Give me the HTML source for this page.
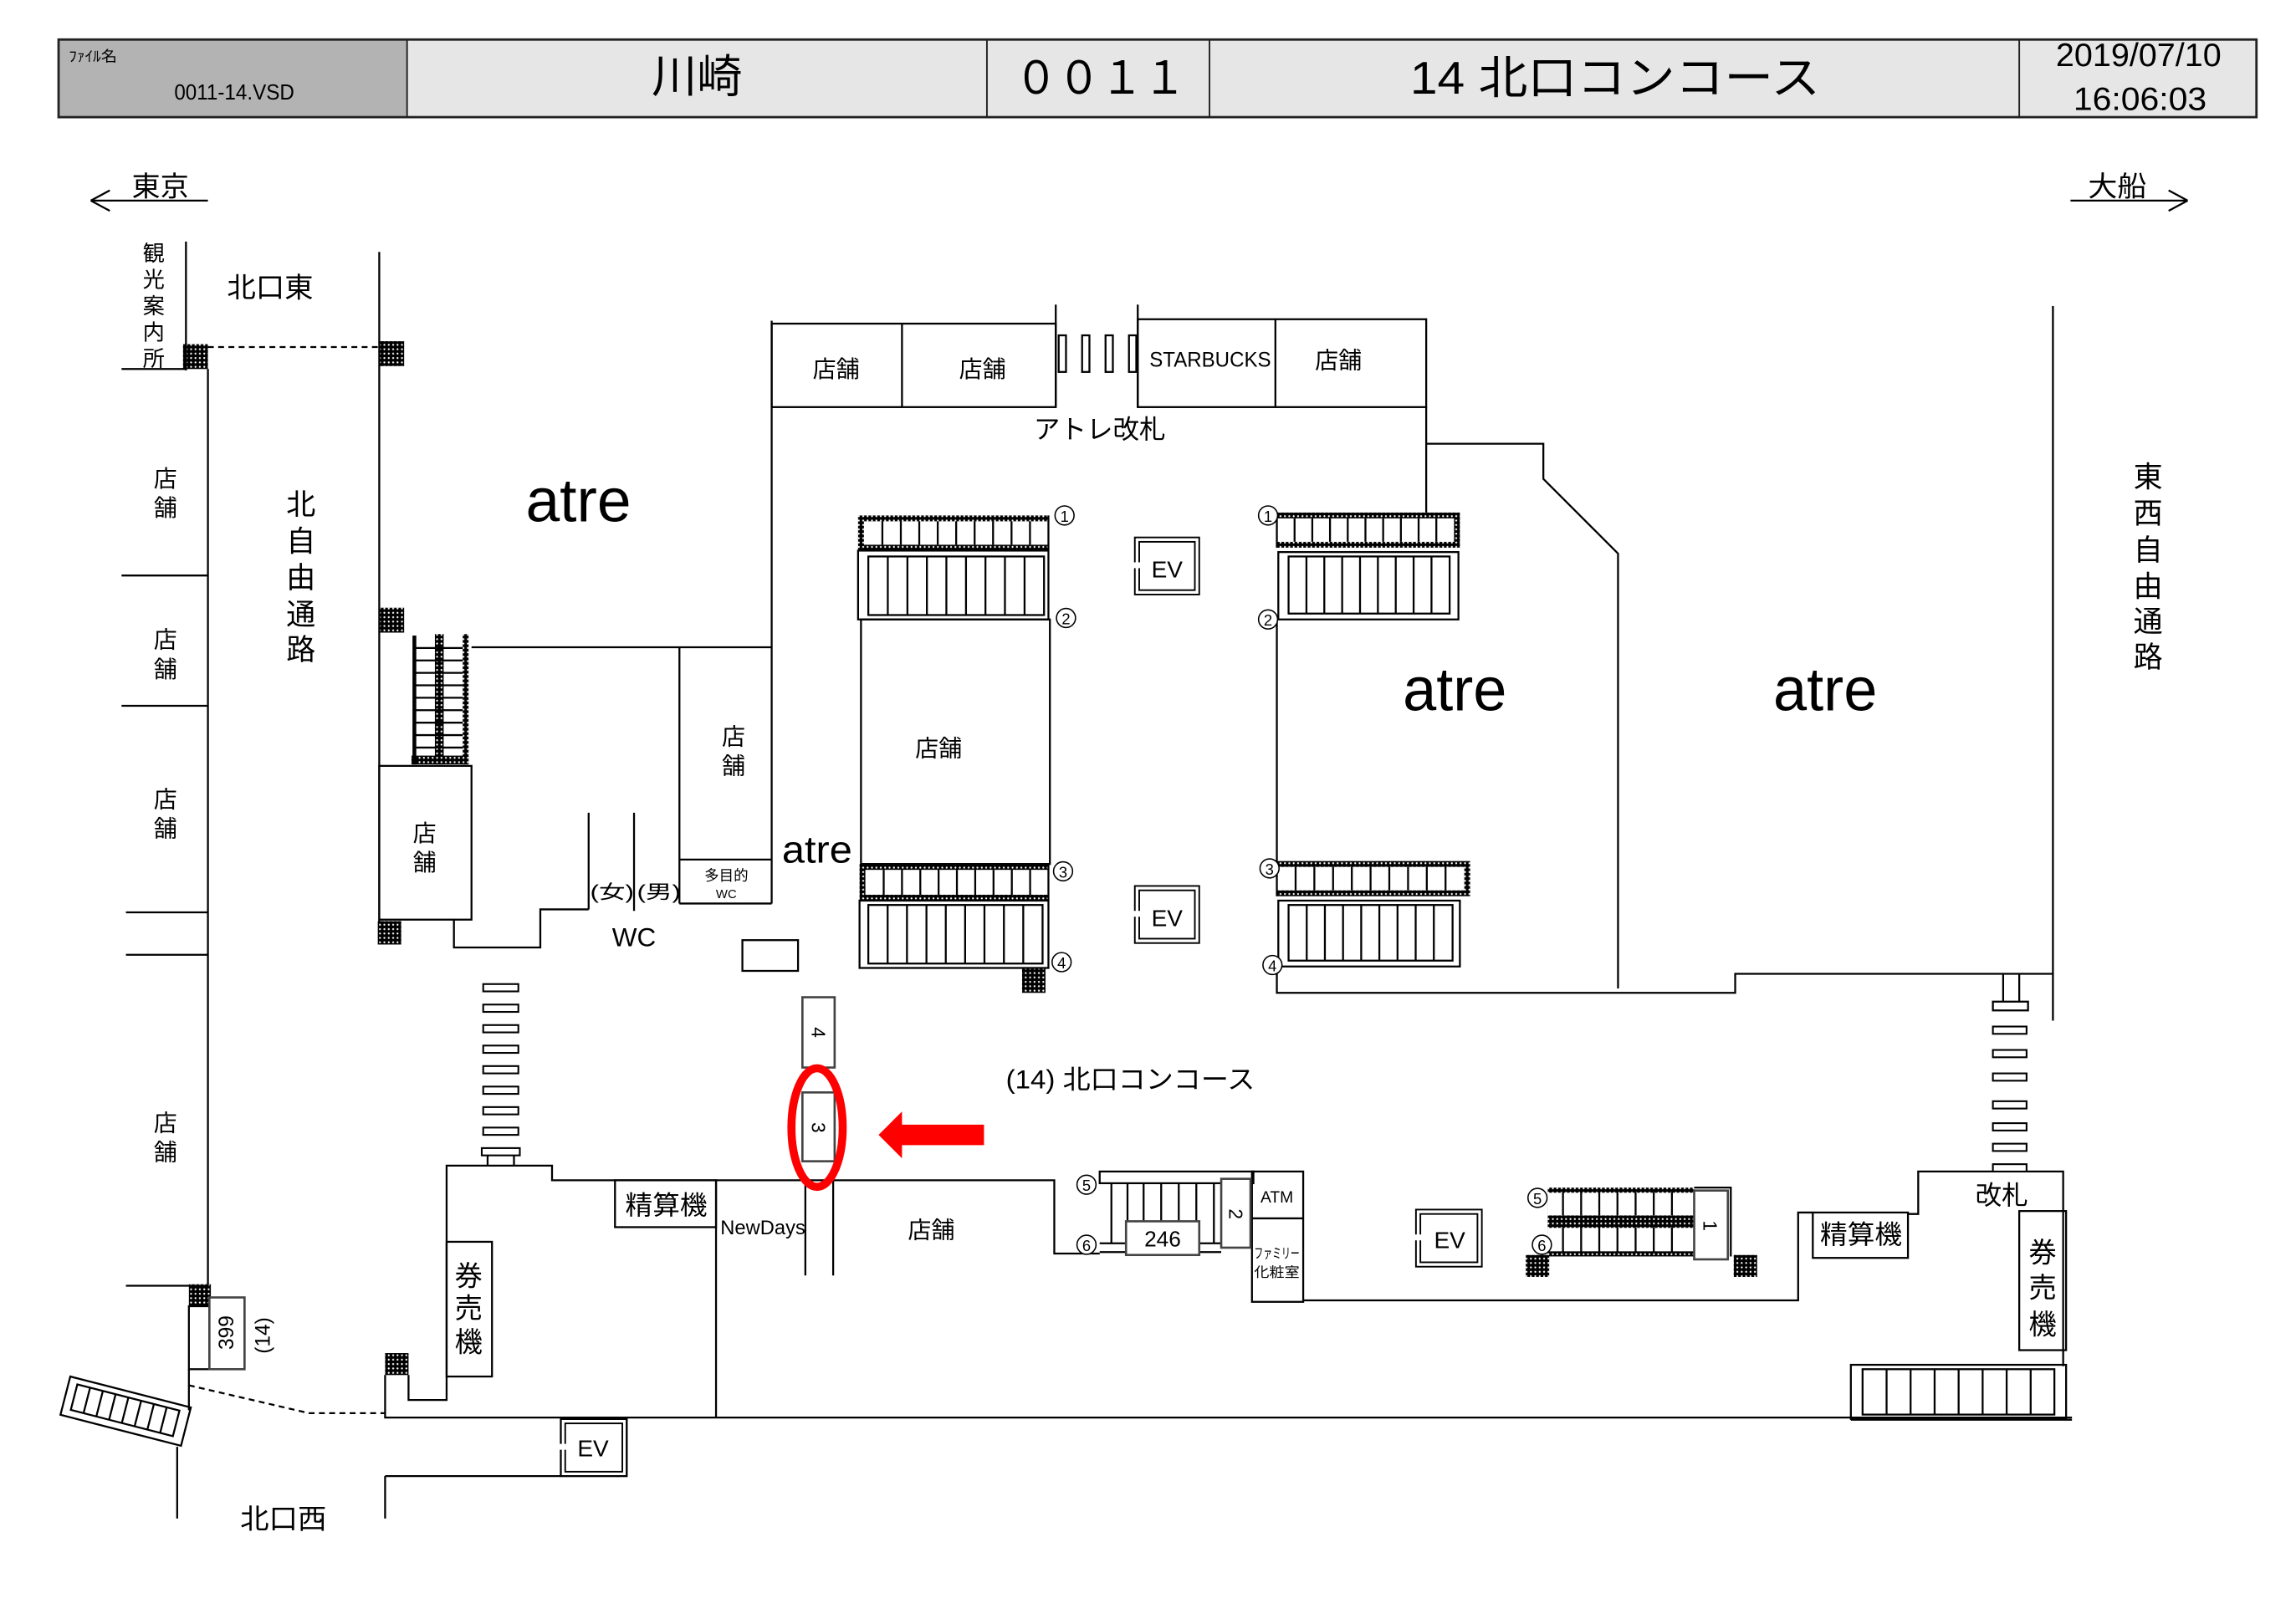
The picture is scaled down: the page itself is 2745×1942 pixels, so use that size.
<!DOCTYPE html>
<html><head><meta charset="utf-8"><style>
html,body{margin:0;padding:0;background:#fff;}
svg{display:block;}
text{font-family:"Liberation Sans","Noto Sans CJK JP",sans-serif;fill:#000;}
</style></head><body>
<svg xmlns="http://www.w3.org/2000/svg" width="2745" height="1942" viewBox="0 0 1568 1109" preserveAspectRatio="none">
<defs>
<pattern id="d" width="3" height="3" patternUnits="userSpaceOnUse"><rect width="3" height="3" fill="#000"/><circle cx="1.5" cy="1.5" r="0.65" fill="#fff"/></pattern>
</defs>
<rect width="1568" height="1109" fill="#fff"/>

<!-- HEADER -->
<rect x="40" y="27" width="238" height="53" fill="#b3b3b3"/>
<rect x="278" y="27" width="1263" height="53" fill="#e6e6e6"/>
<g stroke="#222" fill="none">
<rect x="40" y="27" width="1501" height="53" stroke-width="1.6"/>
<path d="M278 27V80M674 27V80M826 27V80M1379 27V80" stroke-width="1.1"/>
</g>
<text x="47" y="42" font-size="10" textLength="33" lengthAdjust="spacingAndGlyphs">ﾌｧｲﾙ名</text>
<text x="119" y="68" font-size="15" textLength="82" lengthAdjust="spacingAndGlyphs">0011-14.VSD</text>
<text x="445" y="63" font-size="31" textLength="62" lengthAdjust="spacingAndGlyphs">川崎</text>
<text x="693" y="64" font-size="31" textLength="117" lengthAdjust="spacingAndGlyphs">００１１</text>
<text x="963" y="64" font-size="31" textLength="280" lengthAdjust="spacingAndGlyphs">14 北口コンコース</text>
<text x="1404" y="45" font-size="22" textLength="113" lengthAdjust="spacingAndGlyphs">2019/07/10</text>
<text x="1416" y="75" font-size="22" textLength="91" lengthAdjust="spacingAndGlyphs">16:06:03</text>

<!-- direction arrows -->
<g stroke="#000" stroke-width="1.3" fill="none">
<path d="M62 137H142M62 137L75 130M62 137L75 144"/>
<path d="M1414 137H1494M1494 137L1481 130M1494 137L1481 144"/>
</g>
<text x="90" y="134" font-size="19" textLength="39" lengthAdjust="spacingAndGlyphs">東京</text>
<text x="1426" y="134" font-size="19" textLength="40" lengthAdjust="spacingAndGlyphs">大船</text>

<!-- TACTILE / DOTTED -->
<g fill="url(#d)">
<rect x="125" y="235" width="17" height="17"/>
<rect x="259" y="233" width="17" height="17"/>
<rect x="259" y="415" width="17" height="17"/>
<rect x="258" y="629" width="16" height="16"/>
<rect x="698" y="661" width="16" height="17"/>
<rect x="129" y="877" width="15" height="15"/>
<rect x="263" y="924" width="16" height="15"/>
<rect x="1042" y="857" width="16" height="15"/>
<rect x="1184" y="857" width="16" height="15"/>
<rect x="297" y="433" width="6" height="89"/>
<rect x="316" y="433" width="4" height="89"/>
<rect x="281" y="516" width="39" height="6"/>
<rect x="586" y="352" width="130" height="24"/>
<rect x="587" y="590" width="129" height="25"/>
<rect x="872" y="350" width="125" height="24"/>
<rect x="872" y="588" width="132" height="24"/>
<rect x="1057" y="811" width="100" height="47"/>
</g>
<g fill="#fff">
<rect x="590" y="356" width="126" height="16"/>
<rect x="591" y="594" width="125" height="17"/>
<rect x="872" y="354" width="121" height="16"/>
<rect x="872" y="592" width="128" height="16"/>
<rect x="1057" y="814.5" width="100" height="15.5"/>
<rect x="1057" y="838.5" width="100" height="16"/>
</g>

<!-- MAIN LINES -->
<g stroke="#000" stroke-width="1.3" fill="none">
<path d="M127 165V253M83 252H127"/>
<path d="M142 237H259" stroke-dasharray="4 3"/>
<path d="M142 252V878M259 172V630"/>
<path d="M83 393H142M83 482H142M86 623H142M86 652H142M86 878H142"/>
<path d="M283 434V522" stroke-width="2.6"/>
<path d="M283 442.5H316M283 451H316M283 459.5H316M283 468H316M283 476.5H316M283 485H316M283 493.5H316M283 502H316M283 510.5H316"/>
<rect x="259" y="523" width="63" height="105"/>
<path d="M322 442H527M527 219V617M464 442V617M464 587H527M464 617H527"/>
<path d="M402 555V621M433 555V622M310 628V647H369V621H402"/>
<rect x="507" y="642" width="38" height="21"/>
<!-- top shops -->
<rect x="527" y="221" width="194" height="57"/>
<path d="M616 221V278M721 208V278M777 208V278M871 218V278"/>
<rect x="723" y="229" width="5" height="25"/>
<rect x="739" y="229" width="5" height="25"/>
<rect x="755" y="229" width="5" height="25"/>
<rect x="771" y="229" width="5" height="25"/>
<rect x="777" y="218" width="197" height="60"/>
<path d="M974 278V350M974 303H1054V327L1105 378V675M1402 209V697"/>
<path d="M872 423V588M872 659V678H1185V665H1402"/>

<!-- left group -->
<path d="M602.6 356V372M615.2 356V372M627.8 356V372M640.4 356V372M653 356V372M665.6 356V372M678.2 356V372M690.8 356V372M703.4 356V372M716 352V376"/>
<rect x="586" y="376" width="130" height="47"/>
<rect x="593" y="380" width="120" height="40"/>
<path d="M606.3 380V420M619.7 380V420M633 380V420M646.3 380V420M659.7 380V420M673 380V420M686.3 380V420M699.7 380V420"/>
<rect x="588" y="423" width="129" height="167"/>
<path d="M603.5 594V611M616 594V611M628.5 594V611M641 594V611M653.5 594V611M666 594V611M678.5 594V611M691 594V611M703.5 594V611M716 590V615"/>
<rect x="587" y="615" width="129" height="46"/>
<rect x="593" y="618" width="119" height="40"/>
<path d="M606.2 618V658M619.4 618V658M632.7 618V658M645.9 618V658M659.1 618V658M672.3 618V658M685.6 618V658M698.8 618V658"/>

<!-- right group -->
<path d="M884.1 354V370M896.2 354V370M908.3 354V370M920.4 354V370M932.5 354V370M944.6 354V370M956.7 354V370M968.8 354V370M980.9 354V370M872 350V374"/>
<rect x="873" y="377" width="123" height="46"/>
<rect x="880" y="380" width="110" height="39"/>
<path d="M892.2 380V419M904.4 380V419M916.6 380V419M928.8 380V419M941 380V419M953.2 380V419M965.4 380V419M977.6 380V419"/>
<path d="M884.8 592V608M897.6 592V608M910.4 592V608M923.2 592V608M936 592V608M948.8 592V608M961.6 592V608M974.4 592V608M987.2 592V608M872 588V612"/>
<rect x="873" y="615" width="124" height="45"/>
<rect x="880" y="618" width="112" height="38"/>
<path d="M892.4 618V656M904.8 618V656M917.2 618V656M929.6 618V656M942 618V656M954.4 618V656M966.8 618V656M979.2 618V656"/>

<!-- bottom left -->
<rect x="129" y="892" width="14" height="43"/>
<path d="M129 935V963M121 988V1037"/>
<path d="M129 946L211 965H263" stroke-dasharray="4 3"/>
<path d="M263 939V968H1415"/>
<path d="M279 939V956H305V796H377V806H720V856H751"/>
<path d="M333 789V796M351 789V796"/>
<rect x="305" y="848" width="31" height="92"/>
<rect x="420" y="806" width="69" height="32"/>
<path d="M489 806V968M550 806V871M569 806V871"/>
<rect x="383" y="969" width="45" height="39"/>
<path d="M263 1008H383M263 1008V1037"/>
<g transform="translate(48,940) rotate(14.4)">
<rect x="0" y="0" width="85" height="27"/>
<rect x="6" y="4" width="72" height="18"/>
<path d="M15 4V22M24 4V22M33 4V22M42 4V22M51 4V22M60 4V22M69 4V22"/>
</g>

<!-- center bottom stairs 5/6 -->
<rect x="751" y="800" width="105" height="8"/>
<path d="M759 808V849M770 808V849M781 808V849M793 808V849M805 808V849M817 808V849M829 808V849"/>
<path d="M751 849H834M751 855H834"/>
<rect x="855" y="800" width="35" height="89"/>
<path d="M855 832H890M890 888H1228V828H1238M1303 829H1310V800H1409V933"/>
<rect x="1238" y="828" width="65" height="31"/>
<path d="M1368 665V684M1379 665V684"/>
<rect x="1361" y="684" width="24" height="6"/>
<rect x="1379" y="827" width="32" height="95"/>
<rect x="1264" y="932" width="147" height="37"/>
<rect x="1272" y="935" width="131" height="31"/>
<path d="M1288.4 935V966M1304.8 935V966M1321.2 935V966M1337.6 935V966M1354 935V966M1370.4 935V966M1386.8 935V966M1264 969.5H1415" />
<path d="M1067.4 814V830M1079.8 814V830M1092.2 814V830M1104.6 814V830M1117 814V830M1129.4 814V830M1141.8 814V830M1067.4 838V855M1079.8 838V855M1092.2 838V855M1104.6 838V855M1117 838V855M1129.4 838V855M1141.8 838V855M1157 811H1182V858"/>
</g>

<!-- gates dashes -->
<g stroke="#000" stroke-width="1.2" fill="#fff">
<rect x="330" y="672" width="24" height="5"/>
<rect x="330" y="686" width="24" height="5"/>
<rect x="330" y="700" width="24" height="5"/>
<rect x="330" y="714" width="24" height="5"/>
<rect x="330" y="728" width="24" height="5"/>
<rect x="330" y="742" width="24" height="5"/>
<rect x="330" y="756" width="24" height="5"/>
<rect x="330" y="770" width="24" height="5"/>
<rect x="329" y="784" width="26" height="5"/>
<rect x="1361" y="701" width="23" height="5"/>
<rect x="1361" y="717" width="23" height="5"/>
<rect x="1361" y="733" width="23" height="5"/>
<rect x="1361" y="752" width="23" height="5"/>
<rect x="1361" y="767" width="23" height="5"/>
<rect x="1361" y="781" width="23" height="5"/>
<rect x="1361" y="795" width="23" height="5"/>
</g>

<!-- numbered boxes -->
<g stroke="#444" stroke-width="1.5" fill="#fff">
<rect x="143" y="886" width="24" height="49"/>
<rect x="548" y="681" width="22" height="48"/>
<rect x="548" y="746" width="22" height="47"/>
<rect x="834" y="805" width="20" height="47"/>
<rect x="769" y="834" width="50" height="23"/>
<rect x="1157" y="813" width="23" height="47"/>
</g>

<!-- EV boxes -->
<g stroke="#000" stroke-width="1.1" fill="none">
<rect x="775" y="367" width="44" height="39"/><rect x="778" y="370" width="38" height="33"/>
<rect x="775" y="605" width="44" height="39"/><rect x="778" y="608" width="38" height="33"/>
<rect x="967" y="826" width="45" height="39"/><rect x="970" y="829" width="39" height="33"/>
<rect x="383" y="969" width="45" height="39"/><rect x="386" y="972" width="39" height="33"/>
</g>
<g fill="#fff">
<rect x="773" y="384" width="6" height="4"/>
<rect x="773" y="622" width="6" height="4"/>
<rect x="965" y="843" width="6" height="4"/>
<rect x="381" y="986" width="6" height="4"/>
</g>

<!-- circled numbers -->
<g stroke="#000" stroke-width="0.9" fill="#fff">
<circle cx="727" cy="352" r="6.5"/><circle cx="728" cy="422" r="6.5"/><circle cx="726" cy="595" r="6.5"/><circle cx="725" cy="657" r="6.5"/>
<circle cx="866" cy="352" r="6.5"/><circle cx="866" cy="423" r="6.5"/><circle cx="867" cy="593" r="6.5"/><circle cx="869" cy="659" r="6.5"/>
<circle cx="742" cy="809" r="6.5"/><circle cx="742" cy="850" r="6.5"/>
<circle cx="1050" cy="818" r="6.5"/><circle cx="1053" cy="850" r="6.5"/>
</g>
<g font-size="10.5" text-anchor="middle" dominant-baseline="central">
<text x="727" y="352.5">1</text><text x="728" y="422.5">2</text><text x="726" y="595.5">3</text><text x="725" y="657.5">4</text>
<text x="866" y="352.5">1</text><text x="866" y="423.5">2</text><text x="867" y="593.5">3</text><text x="869" y="659.5">4</text>
<text x="742" y="809.5">5</text><text x="742" y="850.5">6</text>
<text x="1050" y="818.5">5</text><text x="1053" y="850.5">6</text>
</g>

<!-- LABELS -->
<g text-anchor="middle" dominant-baseline="central">
<g font-size="15">
<text x="105" y="173">観</text><text x="105" y="191">光</text><text x="105" y="209">案</text><text x="105" y="227">内</text><text x="105" y="245">所</text>
</g>
<g font-size="16">
<text x="113" y="327">店</text><text x="113" y="347">舗</text>
<text x="113" y="437">店</text><text x="113" y="457">舗</text>
<text x="113" y="546">店</text><text x="113" y="566">舗</text>
<text x="113" y="767">店</text><text x="113" y="787">舗</text>
<text x="290" y="569">店</text><text x="290" y="589">舗</text>
<text x="501" y="503">店</text><text x="501" y="523">舗</text>
</g>
<g font-size="20">
<text x="205.5" y="345">北</text><text x="205.5" y="370">自</text><text x="205.5" y="395">由</text><text x="205.5" y="420">通</text><text x="205.5" y="444">路</text>
<text x="1467" y="326">東</text><text x="1467" y="351">西</text><text x="1467" y="376">自</text><text x="1467" y="401">由</text><text x="1467" y="425">通</text><text x="1467" y="449">路</text>
</g>
<g font-size="19">
<text x="320" y="872">券</text><text x="320" y="894">売</text><text x="320" y="917">機</text>
<text x="1395" y="856">券</text><text x="1395" y="880">売</text><text x="1395" y="905">機</text>
</g>
<g font-size="16">
<text x="571" y="252">店舗</text><text x="671" y="252">店舗</text><text x="914" y="246">店舗</text>
<text x="641" y="511">店舗</text><text x="636" y="840">店舗</text>
<text x="797" y="389">EV</text><text x="797" y="627">EV</text><text x="990" y="847">EV</text><text x="405" y="989">EV</text>
</g>
<text x="496" y="598" font-size="10">多目的</text>
<text x="496" y="611" font-size="8.5">WC</text>
<text x="872" y="818" font-size="11">ATM</text>
<text x="872" y="856" font-size="9.5" textLength="31" lengthAdjust="spacingAndGlyphs">ファミリー</text>
<text x="872" y="869" font-size="9.5" textLength="31" lengthAdjust="spacingAndGlyphs">化粧室</text>
<text x="794" y="846" font-size="15">246</text>
<text x="433" y="640" font-size="18">WC</text>
<g font-size="13">
<text transform="translate(559,705) rotate(90)">4</text>
<text transform="translate(559,770) rotate(90)">3</text>
<text transform="translate(844,829) rotate(90)">2</text>
<text transform="translate(1168,837) rotate(90)">1</text>
<text transform="translate(155,910) rotate(-90)" font-size="14">399</text>
<text transform="translate(180,912) rotate(-90)" font-size="14">(14)</text>
</g>
</g>

<g dominant-baseline="central">
<text x="155" y="197" font-size="19" textLength="59" lengthAdjust="spacingAndGlyphs">北口東</text>
<text x="403" y="609" font-size="13" textLength="30" lengthAdjust="spacingAndGlyphs">(女)</text>
<text x="435" y="609" font-size="13" textLength="30" lengthAdjust="spacingAndGlyphs">(男)</text>
<text x="785" y="246" font-size="14" textLength="83" lengthAdjust="spacingAndGlyphs">STARBUCKS</text>
<text x="706" y="293" font-size="18" textLength="90" lengthAdjust="spacingAndGlyphs">アトレ改札</text>
<text x="687" y="737" font-size="18" textLength="170" lengthAdjust="spacingAndGlyphs">(14) 北口コンコース</text>
<text x="427" y="823" font-size="18" textLength="56" lengthAdjust="spacingAndGlyphs">精算機</text>
<text x="1243" y="843" font-size="18" textLength="56" lengthAdjust="spacingAndGlyphs">精算機</text>
<text x="1349" y="816" font-size="18" textLength="36" lengthAdjust="spacingAndGlyphs">改札</text>
<text x="492" y="839" font-size="13.5" textLength="58" lengthAdjust="spacingAndGlyphs">NewDays</text>
<text x="164" y="1038" font-size="19" textLength="59" lengthAdjust="spacingAndGlyphs">北口西</text>
</g>
<text x="359" y="356" font-size="42" textLength="72" lengthAdjust="spacingAndGlyphs">atre</text>
<text x="958" y="485" font-size="42" textLength="71" lengthAdjust="spacingAndGlyphs">atre</text>
<text x="1211" y="485" font-size="42" textLength="71" lengthAdjust="spacingAndGlyphs">atre</text>
<text x="534" y="589" font-size="26" textLength="48" lengthAdjust="spacingAndGlyphs">atre</text>

<!-- RED MARKERS -->
<ellipse cx="558" cy="770" rx="17.5" ry="40.5" fill="none" stroke="#ff0000" stroke-width="5.5"/>
<polygon points="600,775 616,759 616,768 672,768 672,782 616,782 616,791" fill="#ff0000"/>
</svg>
</body></html>
